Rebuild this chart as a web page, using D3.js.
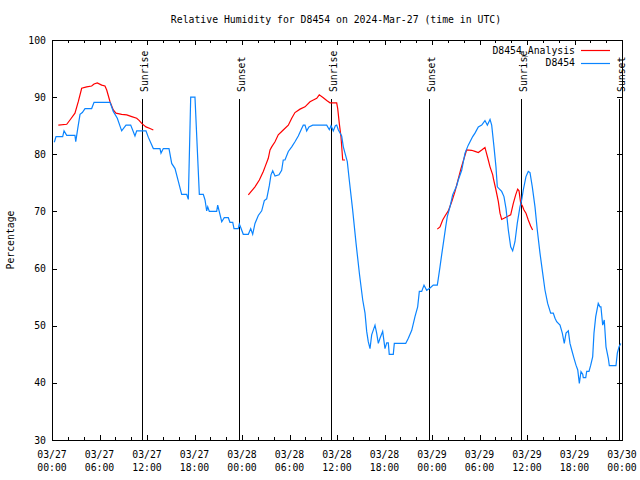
<!DOCTYPE html>
<html><head><meta charset="utf-8">
<script src="https://cdn.jsdelivr.net/npm/d3@7"></script>
<style>
body{margin:0;background:#fff;}
text{font-family:"DejaVu Sans Mono",monospace;font-size:9.8px;fill:#000;}
</style></head><body>
<svg id="c" width="640" height="480"></svg>
<script>
// ---- data (time in hours since 2024-03-27 00:00 UTC) ----
const obsHours = [0.29,0.51,1.35,1.52,1.86,2.9,3.0,3.25,3.54,3.83,4.17,5.01,5.31,7.33,7.74,8.25,8.8,9.35,9.94,10.48,10.7,11.87,12.16,12.8,13.64,13.77,14.06,14.78,15.12,15.54,15.95,16.38,17.01,17.22,17.52,18.06,18.61,19.11,19.33,19.54,19.67,19.87,20.8,20.93,21.44,21.76,22.27,22.48,22.83,22.99,23.53,23.66,23.84,24.16,24.8,25.1,25.35,25.64,26.06,26.49,26.82,27.12,27.45,27.66,27.88,28.17,28.67,29.01,29.21,29.43,29.85,30.28,30.69,31.11,31.54,31.74,31.96,32.17,32.46,32.93,34.7,35.03,35.24,35.53,35.79,35.96,36.16,36.59,36.8,37.01,37.3,37.55,37.96,38.4,38.84,39.25,39.54,39.75,39.95,40.17,40.38,40.8,41.01,41.22,41.43,41.77,42.06,42.28,42.48,42.6,43.11,43.24,44.68,45.01,45.44,45.85,46.19,46.4,46.7,46.99,47.33,47.75,48.16,48.67,48.8,49.01,49.22,49.43,49.73,49.93,50.27,50.61,51.12,51.32,51.75,52.17,52.58,53.14,53.43,53.85,54.28,54.69,54.99,55.33,55.54,55.83,56.08,56.25,56.46,56.8,57.09,57.35,57.64,57.94,58.19,58.48,58.77,59.11,59.33,59.53,59.87,60.16,60.38,60.67,61.01,61.3,61.64,61.98,62.27,62.61,62.99,63.32,63.54,63.75,64.17,64.46,64.71,64.93,65.22,65.43,65.65,65.94,66.19,66.41,66.61,66.82,67.04,67.11,67.42,67.54,67.83,68.05,68.3,68.46,68.68,69.0,69.22,69.34,69.56,69.76,69.98,70.27,70.4,71.24,71.41,71.62,71.84];
const obsValues = [82.1,83.1,83.1,84.1,83.3,83.3,82.2,84.5,87.0,87.3,88.0,88.0,89.1,89.1,87.5,86.3,84.1,85.1,85.1,83.2,84.1,84.1,83.0,81.0,81.0,80.2,81.0,81.0,78.4,77.5,75.3,73.0,73.0,72.1,90.0,90.0,73.0,73.0,72.0,70.1,70.8,70.0,70.0,71.1,68.2,68.9,68.9,68.1,68.1,67.0,67.0,67.8,67.2,66.0,66.0,67.0,66.0,67.9,69.3,70.1,71.9,72.2,74.5,76.4,77.1,76.2,76.4,77.2,79.0,79.0,80.5,81.3,82.2,83.2,84.5,85.1,85.1,84.1,84.8,85.1,85.1,84.3,85.0,84.1,85.0,85.1,84.3,83.2,81.3,80.2,78.7,75.5,70.5,64.5,59.0,54.5,52.2,49.0,47.2,46.0,48.4,50.1,48.7,46.9,47.8,49.0,46.0,47.0,47.0,45.0,45.0,46.9,46.9,47.8,49.2,51.6,53.3,56.0,56.0,57.1,56.2,56.6,57.1,57.1,58.3,60.3,62.4,64.4,67.3,69.1,70.8,72.9,74.5,75.5,77.2,80.2,81.6,83.1,83.7,84.8,85.1,85.9,85.1,86.1,85.1,81.3,77.8,74.3,74.0,73.5,72.6,70.5,66.75,63.8,63.1,64.7,67.9,70.8,72.0,73.75,76.1,77.0,76.8,74.3,70.8,66.75,62.7,59.2,56.25,53.9,52.2,52.2,51.3,50.7,50.1,48.7,46.9,48.7,49.1,46.9,45.75,44.3,43.1,42.25,39.9,41.95,41.5,40.9,40.9,42.0,42.0,43.1,44.6,48.7,51.6,53.9,53.3,53.3,50.1,51.0,46.3,44.3,43.0,43.0,45.2,46.3,46.9];
// analysis series; null = gap
const anaHours = [0.8,1.86,2.27,2.9,3.32,3.75,4.38,5.01,5.31,5.72,6.28,6.69,6.91,7.33,7.74,8.08,8.8,9.44,10.07,10.7,11.03,11.33,11.87,12.38,12.8,18.0,
 24.8,25.64,26.19,26.69,26.91,27.32,27.54,27.75,28.17,28.58,29.21,29.85,30.28,30.69,31.33,31.96,32.59,33.01,33.44,33.76,34.27,34.7,35.12,35.96,36.09,36.29,36.5,36.72,37.01,42.0,
 48.67,49.01,49.35,49.64,50.06,50.49,50.91,51.66,52.37,53.0,53.43,53.85,54.28,54.69,54.82,55.11,55.33,55.67,55.75,56.08,56.38,56.59,56.8,57.22,57.64,57.94,58.27,58.57,58.82,58.99,59.21,59.41,59.62,59.87,60.16,60.46,60.71];
const anaValues = [85.1,85.25,86.0,87.2,89.2,91.55,91.8,91.95,92.3,92.5,92.1,91.95,91.25,89.2,87.75,87.2,87.0,86.9,86.6,86.3,85.9,85.4,84.8,84.5,84.25,null,
 72.9,74.3,75.5,77.0,77.8,79.3,80.75,81.3,82.2,83.4,84.25,85.1,86.3,87.3,87.9,88.3,89.2,89.5,89.8,90.4,89.9,89.4,89.0,89.0,88.0,85.4,83.1,79.0,79.0,null,
 66.9,67.3,68.5,69.2,70.1,71.7,73.5,77.5,80.75,80.7,80.5,80.3,80.75,81.2,80.5,79.0,77.8,76.4,75.8,73.75,71.7,69.7,68.6,68.9,69.2,69.4,71.4,72.9,73.9,73.6,71.4,71.0,70.25,69.7,68.5,67.45,66.75];
const sunHours = [11.4,23.66,35.29,47.66,59.28,71.66];
const sunLabels = ["Sunrise","Sunset","Sunrise","Sunset","Sunrise","Sunset"];
const xTickHours = [0,6,12,18,24,30,36,42,48,54,60,66,72];
const xTickDates = ["03/27","03/27","03/27","03/27","03/28","03/28","03/28","03/28","03/29","03/29","03/29","03/29","03/30"];
const xTickTimes = ["00:00","06:00","12:00","18:00","00:00","06:00","12:00","18:00","00:00","06:00","12:00","18:00","00:00"];
const yTicks = [30,40,50,60,70,80,90,100];
const seriesNames = ["D8454_Analysis","D8454"];
const seriesColors = ["#ff0000","#0a84ff"];
const title = "Relative Humidity for D8454 on 2024-Mar-27 (time in UTC)";
const yLabel = "Percentage";

// ---- drawing ----
const L=52,R=622,T=40,B=440;
const svg=d3.select("#c");
const x=d3.scaleLinear().domain([0,72]).range([L,R]);
const y=d3.scaleLinear().domain([30,100]).range([B,T]);

svg.append("text").attr("x",336).attr("y",23).attr("text-anchor","middle").text(title);
svg.append("text").attr("transform","translate(14,240) rotate(-90)").attr("text-anchor","middle").text(yLabel);

const g=svg.append("g").attr("shape-rendering","crispEdges");
// ticks
const minor=d3.range(0,73,2);
minor.forEach(h=>{
  const len = (h%6===0)?5:3;
  g.append("line").attr("x1",Math.round(x(h))+0.5).attr("x2",Math.round(x(h))+0.5).attr("y1",B).attr("y2",B-len).attr("stroke","#000");
  g.append("line").attr("x1",Math.round(x(h))+0.5).attr("x2",Math.round(x(h))+0.5).attr("y1",T).attr("y2",T+len).attr("stroke","#000");
});
yTicks.forEach(v=>{
  const yy=Math.round(y(v))+0.5;
  g.append("line").attr("x1",L).attr("x2",L+5).attr("y1",yy).attr("y2",yy).attr("stroke","#000");
  g.append("line").attr("x1",R).attr("x2",R-5).attr("y1",yy).attr("y2",yy).attr("stroke","#000");
  svg.append("text").attr("x",L-6).attr("y",y(v)+3.5).attr("text-anchor","end").text(v);
});
xTickHours.forEach((h,i)=>{
  const t=svg.append("text").attr("text-anchor","middle");
  t.append("tspan").attr("x",x(h)).attr("y",458).text(xTickDates[i]);
  t.append("tspan").attr("x",x(h)).attr("y",471).text(xTickTimes[i]);
});

// sunrise / sunset
sunHours.forEach((h,i)=>{
  const xx=Math.round(x(h))+0.5;
  g.append("line").attr("x1",xx).attr("x2",xx).attr("y1",99).attr("y2",B).attr("stroke","#000");
  svg.append("text").attr("transform",`translate(${xx+5},92) rotate(-90)`).attr("text-anchor","start").text(sunLabels[i]);
});

// series
const anaData=anaHours.map((h,i)=>({h,v:anaValues[i]}));
const obsData=obsHours.map((h,i)=>({h,v:obsValues[i]}));
const line=d3.line().defined(d=>d.v!==null).x(d=>x(d.h)).y(d=>y(d.v));
svg.append("path").datum(anaData).attr("d",line).attr("fill","none").attr("stroke",seriesColors[0]).attr("stroke-width",1.2);
svg.append("path").datum(obsData).attr("d",line).attr("fill","none").attr("stroke",seriesColors[1]).attr("stroke-width",1.2);

// frame
g.append("rect").attr("x",L+0.5).attr("y",T+0.5).attr("width",R-L).attr("height",B-T).attr("fill","none").attr("stroke","#000");

// legend
seriesNames.forEach((n,i)=>{
  const yy=50+i*12.7;
  svg.append("text").attr("x",575).attr("y",yy+3.5).attr("text-anchor","end").text(n);
  svg.append("line").attr("x1",581).attr("x2",610).attr("y1",Math.round(yy)+0.5).attr("y2",Math.round(yy)+0.5).attr("stroke",seriesColors[i]).attr("stroke-width",1.2);
});
</script></body></html>
